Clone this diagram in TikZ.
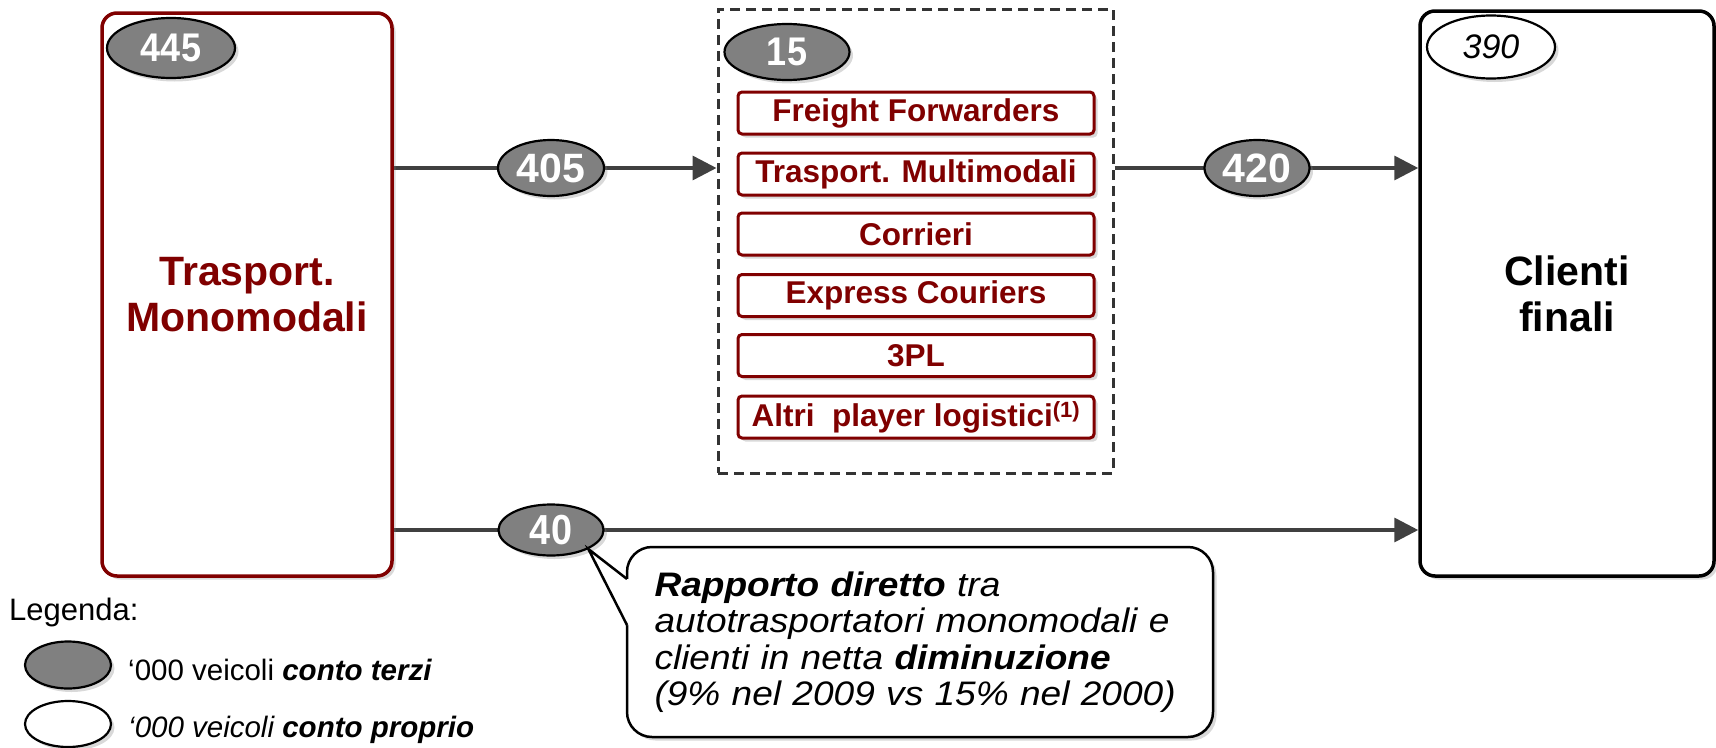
\documentclass[tikz,border=0pt]{standalone}
\usepackage{fontspec}
\setmainfont{Liberation Sans}
\newfontfamily\notefont[FakeStretch=1.09]{Liberation Sans}
\newfontfamily\narrowfont[FakeStretch=0.9]{Liberation Sans}
\usetikzlibrary{arrows.meta,shadows,backgrounds,shapes.geometric}
\definecolor{mred}{RGB}{128,0,0}
\definecolor{flowgray}{RGB}{64,64,64}
\definecolor{ellgray}{RGB}{128,128,128}
\definecolor{dashgray}{RGB}{51,51,51}
\begin{document}
\begin{tikzpicture}[x=1pt,y=-1pt,
  shad/.style={drop shadow={shadow xshift=3.5pt,shadow yshift=-3.5pt,opacity=0.3}},
  bigbox/.style={draw,rounded corners=15pt,line width=3.5pt,fill=white,shad,inner sep=0pt,align=center,
    font=\fontsize{41}{46}\selectfont\bfseries},
  dashbox/.style={draw=dashgray,line width=3pt,dash pattern=on 10pt off 6pt,inner sep=0pt},
  subbox/.style={draw=mred,line width=3pt,rounded corners=4pt,fill=white,shad,minimum width=356pt,
    minimum height=42pt,inner sep=0pt,text=mred,font=\fontsize{31.5}{36}\selectfont\bfseries},
  num/.style={ellipse,draw=black,line width=2.2pt,fill=ellgray,text=white,inner sep=0pt,shad,
    font=\narrowfont\fontsize{40}{44}\selectfont\bfseries},
  own/.style={num,fill=white,text=black,font=\fontsize{34}{38}\selectfont\itshape},
  flow/.style={draw=flowgray,line width=3.5pt,-{Triangle[length=24pt,width=24pt]}},
  legtext/.style={anchor=base west,inner sep=0pt,font=\fontsize{29.5}{34}\selectfont}]
\useasboundingbox (0,0) rectangle (1716,747);

% main boxes
\node[bigbox,draw=mred,text=mred,minimum width=290pt,minimum height=563pt] (L) at (247,294.5) {Trasport.\\Monomodali};
\node[bigbox,draw=black,text=black,minimum width=294pt,minimum height=565pt] (R) at (1567,293.5) {Clienti\\finali};
\node[dashbox,minimum width=395pt,minimum height=464pt] (D) at (915.5,241) {};

% intermediaries
\node[subbox] (ff) at (916,113) {Freight Forwarders};
\node[subbox] (tm) at (916,174) {Trasport. Multimodali};
\node[subbox] (co) at (916,234) {Corrieri};
\node[subbox] (ec) at (916,295.5) {Express Couriers};
\node[subbox] (tpl) at (916,355.5) {3PL};
\node[subbox] (al) at (916,417) {Altri~ player logistici\textsuperscript{(1)}};

% number ellipses
\node[num,minimum width=128pt,minimum height=60pt] (e445) at (171,48) {445};
\node[num,minimum width=125pt,minimum height=56pt] (e15) at (787,52) {15};
\node[own,minimum width=128pt,minimum height=63pt] (e390) at (1491,47) {390};
\node[num,minimum width=106pt,minimum height=56pt,font=\fontsize{41}{44}\selectfont\bfseries] (e405) at (551,168) {405};
\node[num,minimum width=105pt,minimum height=56pt,font=\fontsize{41}{44}\selectfont\bfseries] (e420) at (1257,168) {420};
\node[num,minimum width=105pt,minimum height=51pt,font=\narrowfont\fontsize{42}{44}\selectfont\bfseries] (e40) at (551,530) {40};

% flows
\begin{pgfonlayer}{background}
\draw[flow] (L.east |- e405.center) -- (D.west |- e405.center);
\draw[flow] (D.east |- e420.center) -- (R.west |- e420.center);
\draw[flow] (L.east |- e40.center) -- (R.west |- e40.center);
\end{pgfonlayer}

% callout
\node[draw=black,line width=2.5pt,rounded corners=25pt,fill=white,shad,minimum width=586pt,minimum height=190pt,
  inner xsep=27pt,inner ysep=0pt,text width=531pt,align=left,
  font=\notefont\fontsize{34}{36.5}\selectfont\itshape] (note) at (920,642)
  {\textbf{Rapporto diretto} tra\\autotrasportatori monomodali e\\clienti in netta \textbf{diminuzione}\\(9\% nel 2009 vs 15\% nel 2000)};
\coordinate (p1) at (627,579);
\coordinate (p2) at (627,625);
\fill[white] (p1) -- (e40.-27) -- (p2) -- ++(3.5,0) |- (p1) -- cycle;
\draw[black,line width=2.5pt,line join=miter] (p1) -- (e40.-27) -- (p2);

% legend
\node[legtext,font=\fontsize{31}{34}\selectfont] (leg) at (9,620) {Legenda:};
\node[num,minimum width=86pt,minimum height=47pt] (lg1) at (68,665) {};
\node[own,minimum width=86pt,minimum height=46pt] (lg2) at (68,724) {};
\node[legtext] (lt1) at (128,680) {‘000 veicoli \textbf{\textit{conto terzi}}};
\node[legtext] (lt2) at (128,737) {\textit{‘000 veicoli \textbf{conto proprio}}};
\end{tikzpicture}
\end{document}
